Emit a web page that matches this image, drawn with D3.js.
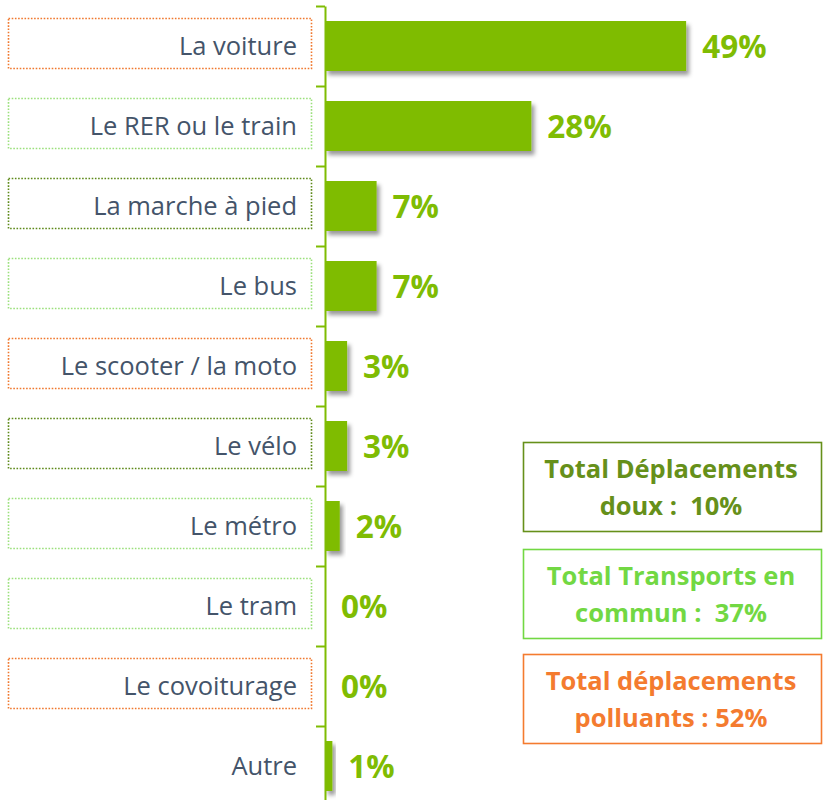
<!DOCTYPE html>
<html>
<head>
<meta charset="utf-8">
<script src="https://cdn.jsdelivr.net/npm/d3@7"></script>
<style>
  body { margin: 0; background: #fff; }
  svg { display: block; }
  text { white-space: pre; }
</style>
</head>
<body>
<div id="chart"></div>
<script>
// modes de deplacement
var categories = ["La voiture", "Le RER ou le train", "La marche à pied", "Le bus",
  "Le scooter / la moto", "Le vélo", "Le métro", "Le tram", "Le covoiturage", "Autre"];
var values = [49, 28, 7, 7, 3, 3, 2, 0, 0, 1];
// groupe du cadre pointille autour du libelle
var groups = ["polluant", "commun", "doux", "commun", "polluant", "doux", "commun", "commun", "polluant", null];
var totalLines = [
  ["Total Déplacements", "doux :  10%"],
  ["Total Transports en", "commun :  37%"],
  ["Total déplacements", "polluants : 52%"]
];
var totalGroups = ["doux", "commun", "polluant"];

var groupColor = { polluant: "#F0782E", commun: "#9BE07C", doux: "#5E8A1A" };
var totalColor = { polluant: "#F47B2F", commun: "#72D843", doux: "#66901A" };
var green = "#7FBC03";

var w = 823, h = 800;
var axisX = 325;

var svg = d3.select("#chart").append("svg")
  .attr("width", w)
  .attr("height", h);

var defs = svg.append("defs");
var f = defs.append("filter").attr("id", "shadow")
  .attr("x", "-20%").attr("y", "-20%").attr("width", "160%").attr("height", "160%");
f.append("feDropShadow")
  .attr("dx", 3).attr("dy", 4).attr("stdDeviation", 2)
  .attr("flood-color", "#000").attr("flood-opacity", 0.4);

var y = d3.scaleBand()
  .domain(categories)
  .range([6, 806])
  .paddingInner(0.375)
  .paddingOuter(0.1875);

var x = d3.scaleLinear()
  .domain([0, 100])
  .range([axisX, axisX + 737]);

// cadres pointilles
svg.selectAll("rect.box")
  .data(categories.filter(function(d, i){ return groups[i]; }))
  .enter()
  .append("rect")
  .attr("class", "box")
  .attr("x", 8.5)
  .attr("y", function(d){ return y(d) - 2.5; })
  .attr("width", 303)
  .attr("height", y.bandwidth())
  .attr("fill", "none")
  .attr("stroke", function(d){ return groupColor[groups[categories.indexOf(d)]]; })
  .attr("stroke-width", 1.6)
  .attr("stroke-dasharray", "1.6,1.6");

svg.selectAll("text.cat")
  .data(categories)
  .enter()
  .append("text")
  .attr("class", "cat")
  .text(function(d){ return d; })
  .attr("x", 297)
  .attr("y", function(d){ return y(d) + y.bandwidth() / 2 + 9; })
  .attr("text-anchor", "end")
  .attr("font-family", "Open Sans")
  .attr("font-size", 25.5)
  .attr("fill", "#44546A");

// barres
svg.selectAll("rect.bar")
  .data(values)
  .enter()
  .append("rect")
  .attr("class", "bar")
  .attr("x", x(0))
  .attr("y", function(d, i){ return y(categories[i]); })
  .attr("width", function(d){ return x(d) - x(0); })
  .attr("height", y.bandwidth())
  .attr("fill", green)
  .attr("filter", function(d){ return d > 0 ? "url(#shadow)" : null; });

svg.selectAll("text.val")
  .data(values)
  .enter()
  .append("text")
  .attr("class", "val")
  .text(function(d){ return d + "%"; })
  .attr("x", function(d){ return x(d) + 16; })
  .attr("y", function(d, i){ return y(categories[i]) + y.bandwidth() / 2 + 12; })
  .attr("font-family", "Open Sans")
  .attr("font-weight", "bold")
  .attr("font-size", 31.5)
  .attr("fill", green);

// axe
var tickScale = d3.scaleLinear().domain([0, 10]).range([6, 806]);
var axis = svg.append("g")
  .attr("transform", "translate(" + axisX + ",0)")
  .call(d3.axisLeft(tickScale).ticks(10).tickSize(9).tickSizeOuter(0).tickFormat(""));
axis.selectAll("path, line").attr("stroke", green).attr("stroke-width", 2);

// encadres des totaux
var boxTop = [442, 549, 654];
totalLines.forEach(function(lines, i){
  var g = svg.append("g");
  g.append("rect")
    .attr("x", 523.5)
    .attr("y", boxTop[i] + 0.5)
    .attr("width", 298)
    .attr("height", 89)
    .attr("fill", "#fff")
    .attr("stroke", totalColor[totalGroups[i]])
    .attr("stroke-width", 1.6);
  g.selectAll("text")
    .data(lines)
    .enter()
    .append("text")
    .text(function(d){ return d; })
    .attr("x", 671)
    .attr("y", function(d, j){ return boxTop[i] + 36 + j * 37; })
    .attr("text-anchor", "middle")
    .attr("font-family", "Open Sans")
    .attr("font-weight", "bold")
    .attr("font-size", 25.5)
    .attr("fill", totalColor[totalGroups[i]]);
});
</script>
</body>
</html>
